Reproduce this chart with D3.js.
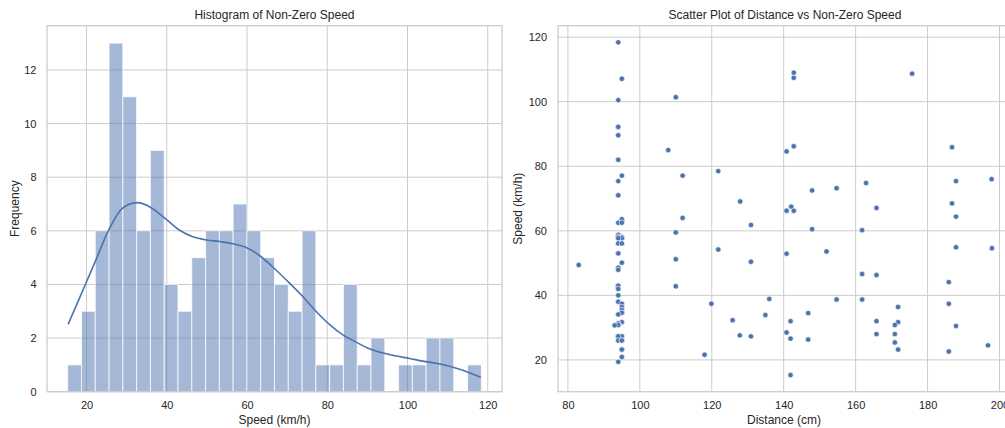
<meta charset="utf-8">
<script src="https://d3js.org/d3.v7.min.js"></script>
<style>
  body { margin: 0; background: #fff; }
  svg text { font-family: "Liberation Sans", Arial, sans-serif; fill: #262626; }
</style>
<div id="chart"></div>

<script>
  // histogram of speed: 30 equal bins between speedMin and speedMax
  const speedMin = 15.3
  const speedMax = 118.4
  const binCounts = [1, 3, 6, 13, 11, 6, 9, 4, 3, 5,
                     6, 6, 7, 6, 5, 4, 3, 6, 1, 1,
                     4, 1, 2, 0, 1, 1, 2, 2, 0, 1]

  // kde curve
  const kdeSpeed = [15.4, 20, 22.3, 25.7, 29.0, 32.6, 35.7, 40.1, 43.2, 46.5, 49.9, 53.2, 56.5, 59.8, 63.1,
                    66.4, 70.6, 73.9, 77.3, 80.6, 83.9, 87.2, 90.5, 93.9, 97.2, 100.5, 103.8, 107.2, 110.5, 113.8, 118.25]
  const kdeCount = [2.51, 4.1, 4.9, 6.08, 6.85, 7.05, 6.9, 6.4, 6.02, 5.78, 5.66, 5.6, 5.52, 5.38, 5.08,
                    4.65, 4.05, 3.55, 2.98, 2.5, 2.12, 1.85, 1.6, 1.44, 1.33, 1.24, 1.14, 1.06, 0.95, 0.8, 0.54]

  // scatter: distance (cm) and speed (km/h)
  const distance = [94, 95, 94, 94, 94, 94, 94, 95, 94, 94,
                    95, 95, 94, 95,
                    94, 94, 94, 95, 95, 94, 94, 95,
                    94, 94, 95, 94, 94, 83,
                    94, 94, 94, 94, 94, 94, 95, 95, 95, 95, 95, 94,
                    95, 94, 94, 94, 93,
                    94, 95, 94, 94, 95, 95,
                    95, 95, 95, 94,
                    110, 107.9, 111.9, 121.8, 127.9, 142.8, 142.8, 140.8, 142.8, 147.9,
                    154.7, 162.9, 165.8, 175.7, 186.8, 187.9, 186.8, 197.8, 140.8, 142.1, 142.8,
                    111.9, 110, 110, 110, 121.8, 119.9, 118, 130.9, 130.9, 130.9,
                    127.8, 125.8, 136, 134.9, 140.8, 147.9, 151.9, 146.8, 141.9, 140.8,
                    141.9, 146.8, 141.9, 154.7, 161.8, 161.8, 161.8, 165.8, 165.8, 165.8,
                    171.8, 171.8, 170.9, 170.9, 170.9, 171.8, 187.9, 187.9, 185.9, 185.9,
                    187.9, 185.9, 197.9, 196.8]
  const speed = [118.4, 107.1, 100.5, 92.2, 92.2, 89.6, 82.0, 77.1, 75.4, 71.0,
                 63.4, 63.6, 62.5, 62.5,
                 58.7, 58.7, 58.1, 58.1, 57.7, 57.7, 56.1, 56.1,
                 53.0, 53.0, 50.1, 48.6, 47.9, 49.4,
                 42.6, 42.9, 43.0, 42.0, 40.0, 38.0, 37.4, 36.4, 35.5, 34.6, 34.6, 34.1,
                 31.7, 31.3, 31.3, 30.8, 30.7,
                 27.35, 27.35, 27.3, 26.0, 26.0, 26.0,
                 23.2, 23.2, 20.9, 19.4,
                 101.4, 85.0, 77.1, 78.5, 69.1, 109.0, 107.4, 84.6, 86.2, 72.5,
                 73.2, 74.8, 67.1, 108.7, 85.9, 75.4, 68.5, 76.0, 66.2, 67.5, 66.2,
                 64.0, 59.5, 51.2, 42.8, 54.2, 37.4, 21.6, 61.8, 50.4, 27.3,
                 27.6, 32.3, 38.9, 33.9, 52.9, 60.5, 53.6, 34.5, 32.0, 28.5,
                 26.6, 26.3, 15.3, 38.7, 60.2, 46.6, 38.7, 46.3, 32.0, 28.0,
                 36.4, 31.7, 30.8, 28.0, 25.4, 23.2, 64.4, 54.9, 44.1, 37.4,
                 30.5, 22.6, 54.6, 24.5]

  const histXTicks = [20, 40, 60, 80, 100, 120]
  const histYTicks = [0, 2, 4, 6, 8, 10, 12]
  const scatXTicks = [80, 100, 120, 140, 160, 180, 200]
  const scatYTicks = [20, 40, 60, 80, 100, 120]

  const W = 1005, H = 428
  const blue = "#4c72b0", gridCol = "#cccccc"
  const plotTop = 25.7, plotBottom = 391.7

  const svg = d3.select("#chart").append("svg")
    .attr("width", W).attr("height", H)

  // speed axis is shared by both panels (same padded range)
  const pad = (speedMax - speedMin) * 0.05
  const speedDomain = [speedMin - pad, speedMax + pad]

  // ---------- left: histogram ----------
  const x1 = d3.scaleLinear().domain(speedDomain).range([47, 502])
  const y1 = d3.scaleLinear().domain([0, d3.max(binCounts) * 1.05]).range([plotBottom, plotTop])

  const g1 = svg.append("g")

  g1.selectAll(".gx").data(histXTicks).enter().append("line")
    .attr("x1", d => x1(d)).attr("x2", d => x1(d))
    .attr("y1", plotTop).attr("y2", plotBottom)
    .attr("stroke", gridCol).attr("stroke-width", 1)
  g1.selectAll(".gy").data(histYTicks).enter().append("line")
    .attr("x1", 47).attr("x2", 502)
    .attr("y1", d => y1(d)).attr("y2", d => y1(d))
    .attr("stroke", gridCol).attr("stroke-width", 1)

  const binW = (speedMax - speedMin) / binCounts.length
  const bins = binCounts.map((c, i) => ({x0: speedMin + i * binW, x1: speedMin + (i + 1) * binW, n: c}))

  g1.selectAll("rect.bar").data(bins.filter(b => b.n > 0)).enter().append("rect")
    .attr("class", "bar")
    .attr("x", d => x1(d.x0))
    .attr("width", d => x1(d.x1) - x1(d.x0))
    .attr("y", d => y1(d.n))
    .attr("height", d => y1(0) - y1(d.n))
    .attr("fill", blue).attr("fill-opacity", 0.5)
    .attr("stroke", "#fff").attr("stroke-opacity", 0.75).attr("stroke-width", 1)

  const kdeLine = d3.line()
    .x((d, i) => x1(kdeSpeed[i]))
    .y(d => y1(d))
    .curve(d3.curveCatmullRom)
  g1.append("path").datum(kdeCount)
    .attr("d", kdeLine)
    .attr("fill", "none").attr("stroke", blue).attr("stroke-width", 1.6)

  g1.append("rect").attr("x", 47).attr("y", plotTop).attr("width", 455).attr("height", plotBottom - plotTop)
    .attr("fill", "none").attr("stroke", gridCol).attr("stroke-width", 1.25)

  g1.append("g").attr("transform", "translate(0," + plotBottom + ")")
    .call(d3.axisBottom(x1).tickValues(histXTicks).tickSize(0).tickPadding(10))
    .call(a => a.select(".domain").remove())
    .selectAll("text").style("font-size", "11px")
  g1.append("g").attr("transform", "translate(47,0)")
    .call(d3.axisLeft(y1).tickValues(histYTicks).tickSize(0).tickPadding(10.5))
    .call(a => a.select(".domain").remove())
    .selectAll("text").style("font-size", "11px")

  g1.append("text").attr("x", 274.5).attr("y", 19.3).attr("text-anchor", "middle")
    .style("font-size", "12px").text("Histogram of Non-Zero Speed")
  g1.append("text").attr("x", 274.5).attr("y", 423.5).attr("text-anchor", "middle")
    .style("font-size", "12px").text("Speed (km/h)")
  g1.append("text").attr("transform", "translate(18.6," + (plotTop + plotBottom) / 2 + ") rotate(-90)")
    .attr("text-anchor", "middle").style("font-size", "12px").text("Frequency")

  // ---------- right: scatter ----------
  const x2 = d3.scaleLinear().domain([77.25, 203.75]).range([558, 1013])
  const y2 = d3.scaleLinear().domain(speedDomain).range([plotBottom, plotTop])

  const g2 = svg.append("g")

  g2.selectAll(".gx").data(scatXTicks).enter().append("line")
    .attr("x1", d => x2(d)).attr("x2", d => x2(d))
    .attr("y1", plotTop).attr("y2", plotBottom)
    .attr("stroke", gridCol).attr("stroke-width", 1)
  g2.selectAll(".gy").data(scatYTicks).enter().append("line")
    .attr("x1", 558).attr("x2", 1013)
    .attr("y1", d => y2(d)).attr("y2", d => y2(d))
    .attr("stroke", gridCol).attr("stroke-width", 1)

  g2.append("rect").attr("x", 558).attr("y", plotTop).attr("width", 455).attr("height", plotBottom - plotTop)
    .attr("fill", "none").attr("stroke", gridCol).attr("stroke-width", 1.25)

  g2.selectAll("circle").data(distance).enter().append("circle")
    .attr("cx", d => x2(d))
    .attr("cy", (d, i) => y2(speed[i]))
    .attr("r", 2.7)
    .attr("fill", blue).attr("stroke", "#fff").attr("stroke-width", 0.6)

  g2.append("g").attr("transform", "translate(0," + plotBottom + ")")
    .call(d3.axisBottom(x2).tickValues(scatXTicks).tickSize(0).tickPadding(10))
    .call(a => a.select(".domain").remove())
    .selectAll("text").style("font-size", "11px")
  g2.append("g").attr("transform", "translate(558,0)")
    .call(d3.axisLeft(y2).tickValues(scatYTicks).tickSize(0).tickPadding(11))
    .call(a => a.select(".domain").remove())
    .selectAll("text").style("font-size", "11px")

  g2.append("text").attr("x", 785).attr("y", 19.3).attr("text-anchor", "middle")
    .style("font-size", "12px").text("Scatter Plot of Distance vs Non-Zero Speed")
  g2.append("text").attr("x", 784).attr("y", 423.5).attr("text-anchor", "middle")
    .style("font-size", "12px").text("Distance (cm)")
  g2.append("text").attr("transform", "translate(522," + (plotTop + plotBottom) / 2 + ") rotate(-90)")
    .attr("text-anchor", "middle").style("font-size", "12px").text("Speed (km/h)")
</script>
